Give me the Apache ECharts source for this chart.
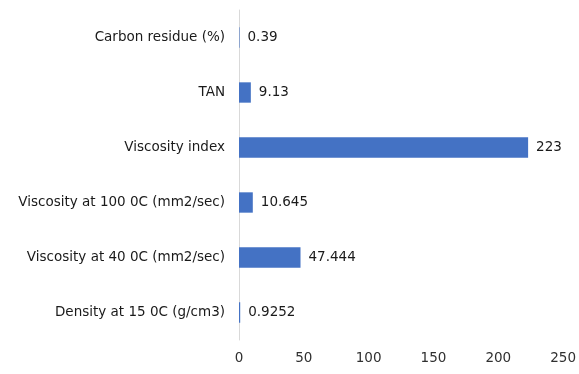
<!DOCTYPE html>
<html><head><meta charset="utf-8">
<script src="https://cdn.jsdelivr.net/npm/echarts@6/dist/echarts.min.js"></script>
<style>html,body{margin:0;padding:0;background:#fff}#c{width:579px;height:374px}</style>
</head><body><div id="c"></div>
<script>
const categories = ["Density at 15 0C (g/cm3)", "Viscosity at 40 0C (mm2/sec)", "Viscosity at 100 0C (mm2/sec)", "Viscosity index", "TAN", "Carbon residue (%)"];
const values = [0.9252, 47.444, 10.645, 223, 9.13, 0.39];
const valueLabels = ["0.9252", "47.444", "10.645", "223", "9.13", "0.39"];
const xTicks = [0, 50, 100, 150, 200, 250];

const chart = echarts.init(document.getElementById('c'), null, {renderer: 'canvas'});
const font = 'DejaVu Sans';
chart.setOption({
  animation: false,
  grid: {left: 239, right: 14, top: 10, bottom: 34, containLabel: false},
  xAxis: {
    type: 'value', min: xTicks[0], max: xTicks[xTicks.length - 1], interval: 50,
    axisLine: {show: false}, axisTick: {show: false}, splitLine: {show: false},
    axisLabel: {color: '#303030', fontFamily: font, fontSize: 13.5, margin: 11}
  },
  yAxis: {
    type: 'category', data: categories,
    axisLine: {show: true, lineStyle: {color: '#d9d9d9', width: 1}},
    axisTick: {show: false},
    axisLabel: {color: '#1a1a1a', fontFamily: font, fontSize: 13.5, margin: 14}
  },
  series: [{
    type: 'bar', data: values, barWidth: '37%',
    itemStyle: {color: '#4472C4'},
    label: {show: true, position: 'right', distance: 8, color: '#1a1a1a', fontFamily: font, fontSize: 13.5,
      formatter: p => valueLabels[p.dataIndex]}
  }]
});
</script></body></html>
